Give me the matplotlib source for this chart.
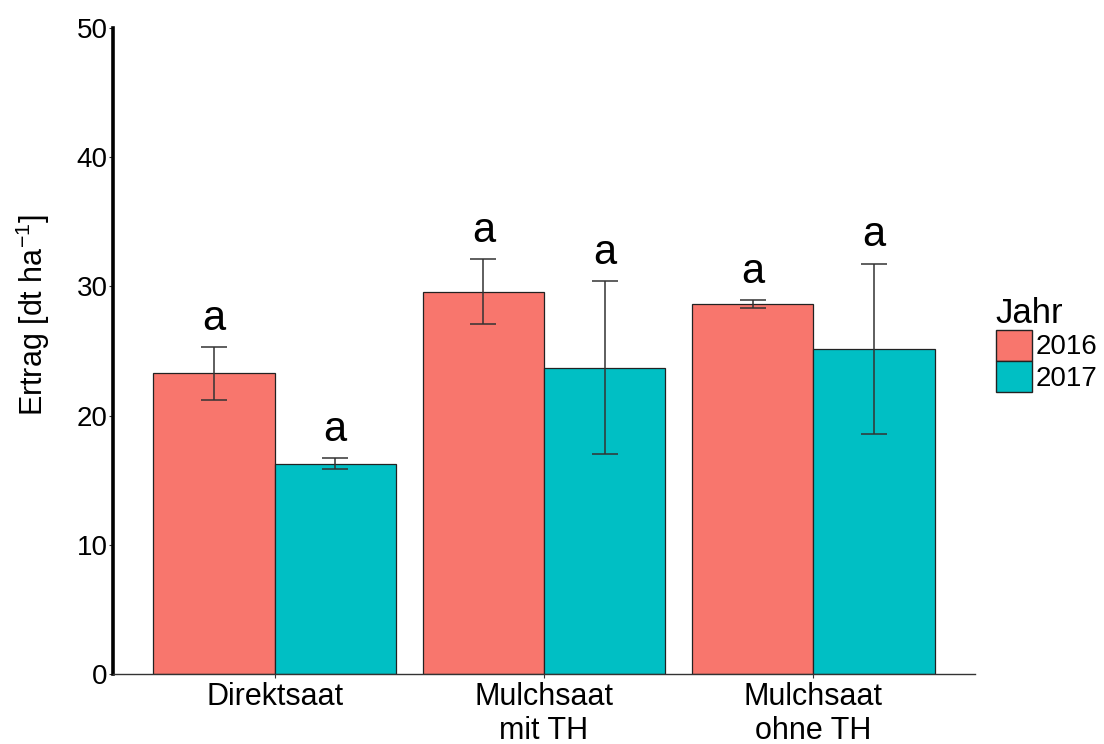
import numpy as np
import matplotlib
matplotlib.use('Agg')
import matplotlib.pyplot as plt
import matplotlib.patches as mpatches

plt.rcParams['font.family'] = ['Liberation Sans', 'DejaVu Sans']
plt.rcParams['mathtext.default'] = 'regular'

# Daten
varianten = ["Direktsaat", "Mulchsaat\nmit TH", "Mulchsaat\nohne TH"]
jahre = ["2016", "2017"]
ertrag_2016 = [23.3, 29.6, 28.6]
ertrag_2017 = [16.25, 23.7, 25.15]
fehler_lo_2016 = [21.2, 27.1, 28.3]
fehler_hi_2016 = [25.3, 32.1, 28.95]
fehler_lo_2017 = [15.9, 17.0, 18.6]
fehler_hi_2017 = [16.7, 30.4, 31.75]
buchstaben_2016 = ["a", "a", "a"]
buchstaben_2017 = ["a", "a", "a"]

FARBEN = ["#F8766D", "#00BFC4"]

fig = plt.figure(figsize=(11.04, 7.44), dpi=100)
ax = fig.add_axes([113 / 1104, 70 / 744, 862 / 1104, 646 / 744])

x = np.arange(1, len(varianten) + 1)
breite = 0.45

serien = [
    (ertrag_2016, fehler_lo_2016, fehler_hi_2016, buchstaben_2016, -breite / 2),
    (ertrag_2017, fehler_lo_2017, fehler_hi_2017, buchstaben_2017, breite / 2),
]

for i, (werte, lo, hi, buchst, off) in enumerate(serien):
    pos = x + off
    ax.bar(pos, werte, width=breite, color=FARBEN[i], edgecolor="#222222",
           linewidth=0.9, zorder=2)
    werte_arr = np.array(werte)
    yerr = [werte_arr - np.array(lo), np.array(hi) - werte_arr]
    ax.errorbar(pos, werte, yerr=yerr, fmt="none", ecolor="#333333",
                elinewidth=1.1, capsize=9.4, capthick=1.1, zorder=3)
    for px, h, b in zip(pos, hi, buchst):
        ax.annotate(b, xy=(px, h), xytext=(0, 6), textcoords="offset points",
                    ha="center", va="bottom", fontsize=30, color="black")

ax.set_xlim(0.4, 3.6)
ax.set_ylim(0, 50)
ax.set_yticks([0, 10, 20, 30, 40, 50])
ax.set_xticks(x)
ax.set_xticklabels(varianten, fontsize=22, linespacing=1.15)
ax.tick_params(axis="y", labelsize=20, length=3, width=0.8, pad=1,
               color="#333333")
ax.tick_params(axis="x", length=3, width=0.8, pad=3, color="#333333")

ax.spines["top"].set_visible(False)
ax.spines["right"].set_visible(False)
ax.spines["left"].set_linewidth(2.6)
ax.spines["left"].set_color("black")
ax.spines["bottom"].set_linewidth(1.0)
ax.spines["bottom"].set_color("#333333")

ax.set_ylabel("Ertrag [dt ha$^{-1}$]", fontsize=22)
ax.yaxis.set_label_coords(-0.071, 0.556)

# Legende
handles = [mpatches.Patch(facecolor=c, edgecolor="#222222", linewidth=1.0, label=j)
           for c, j in zip(FARBEN, jahre)]
leg = fig.legend(handles=handles, title="Jahr", loc="upper left",
                 bbox_to_anchor=(990 / 1104, 1 - 291 / 744), frameon=False,
                 fontsize=20, title_fontsize=25, handlelength=1.3,
                 handleheight=1.35, handletextpad=0.15, labelspacing=0.0,
                 borderpad=0.2, borderaxespad=0)
leg._legend_box.align = "left"

fig.savefig("out.png", dpi=100)
